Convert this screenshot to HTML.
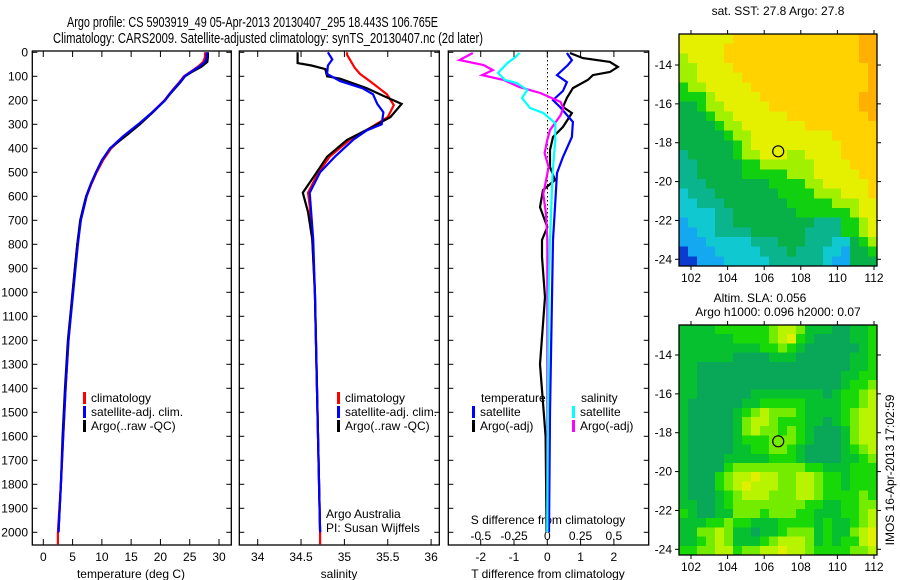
<!DOCTYPE html>
<html><head><meta charset="utf-8"><style>
html,body{margin:0;padding:0;background:#fff}
svg{display:block;font-family:"Liberation Sans",sans-serif}
</style></head><body>
<svg id="fig" width="900" height="580" viewBox="0 0 900 580" xmlns="http://www.w3.org/2000/svg">
<text x="67" y="27" font-size="15" textLength="371" lengthAdjust="spacingAndGlyphs">Argo profile: CS 5903919_49 05-Apr-2013 20130407_295 18.443S 106.765E</text>
<text x="53" y="43" font-size="15" textLength="430" lengthAdjust="spacingAndGlyphs">Climatology: CARS2009. Satellite-adjusted climatology: synTS_20130407.nc (2d later)</text>
<g id="g"></g>
</svg>
<script>
// ---------- data ----------
const depthT = [0,20,40,60,80,100,125,150,175,200,250,300,350,400,450,500,550,600,650,700,800,900,1000,1200,1400,1600,1800,2000];
const tempArgo = [28.1,28.1,28.0,27.0,25.5,24.2,23.4,22.5,21.6,20.8,18.7,16.5,14.0,11.4,10.0,9.0,8.1,7.3,6.8,6.3,5.8,5.4,5.0,4.2,3.7,3.3,3.0,2.6];
const tempClim = [27.6,27.6,27.3,26.4,25.2,24.0,23.2,22.3,21.5,20.7,18.6,16.3,13.8,11.6,10.2,9.1,8.2,7.4,6.9,6.4,5.8,5.4,5.0,4.3,3.8,3.4,3.0,2.5];
const tempSat = [27.9,27.9,27.6,26.6,25.3,24.1,23.3,22.4,21.5,20.8,18.6,16.2,13.6,11.4,10.0,9.0,8.1,7.4,6.9,6.4,5.9,5.5,5.1,4.3,3.8,3.4,3.0,2.6];

const salDepthA = [0,45,55,70,100,110,150,175,215,270,310,365,435,500,585,665,780,1000,1500,2000];
const salArgo = [34.46,34.46,34.62,34.78,34.80,34.95,35.26,35.41,35.66,35.53,35.33,35.03,34.80,34.68,34.52,34.58,34.63,34.66,34.69,34.72];
const salDepthC = [0,10,65,90,130,175,220,270,310,365,435,500,585,640,780,1000,1500,2000,2050];
const salClim = [35.03,35.03,35.12,35.18,35.33,35.49,35.57,35.50,35.32,35.06,34.83,34.70,34.58,34.60,34.63,34.66,34.69,34.72,34.72];
const salDepthS = [0,30,55,90,120,150,175,215,250,300,325,365,435,500,585,780,1000,1500,2000];
const salSat = [34.81,34.86,34.81,34.80,34.95,35.21,35.33,35.38,35.45,35.43,35.26,35.10,34.89,34.72,34.60,34.64,34.66,34.69,34.72];

const dTDepthA = [3,24,40,61,82,95,115,149,190,228,253,311,353,407,478,532,574,645,728,782,853,1020,1300,1600,2000];
const dTArgo = [0.68,1.07,1.88,2.12,1.88,1.37,1.22,0.77,0.59,0.47,0.74,0.47,0.17,0.08,0.08,0.23,-0.13,-0.22,0,-0.16,-0.16,-0.07,-0.22,-0.05,-0.02];
const dTDepthS = [3,33,53,95,124,161,199,228,290,353,436,503,645,782,1020,1500,2000];
const dTSat = [0.59,0.74,0.62,0.29,0.59,0.47,0.17,0.38,0.77,0.74,0.47,0.29,0.23,0.17,0.14,0.08,0.05];
const dSDepthA = [3,32,53,74,95,115,145,170,207,232,262,324,365,420,478,564,590,674,782,1000,1500,2000];
const dSArgo = [-0.56,-0.66,-0.48,-0.41,-0.49,-0.33,-0.21,-0.05,0.10,0.12,0.10,0.02,0,-0.02,0.01,-0.02,-0.03,-0.01,0,0,0,0];
const dSDepthS = [3,20,45,86,115,128,157,190,232,253,295,365,503,782,1020,2000];
const dSSat = [-0.21,-0.24,-0.30,-0.37,-0.32,-0.23,-0.15,-0.19,-0.13,-0.03,0.06,0.06,0.04,0.02,0.01,0];

const depthTicks = [0,100,200,300,400,500,600,700,800,900,1000,1100,1200,1300,1400,1500,1600,1700,1800,1900,2000];
const tempTicks = [0,5,10,15,20,25,30];
const salTicks = [34,34.5,35,35.5,36];
const dTTicks = [-2,-1,0,1,2];
const dSTicks = [-0.5,-0.25,0,0.25,0.5];
const dSTickLabels = ["-0.5","-0.25","0","0.25","0.5"];
const lonTicks = [102,104,106,108,110,112];
const latTicks = [-14,-16,-18,-20,-22,-24];
const argoLon = 106.765, argoLat = -18.443;

const sstGrid = [
"7777778888888888888899","7777788888888888888899","6777788888888888888899","6677778888888888888889",
"6677777888888888888889","5667777788888888888889","5556777778888888888899","4456677777888888888899",
"4445667777778888888889","4444566777777788888888","4444456677777777788888","4444445677777777778888",
"3444445667776677778888","3344444556666667777888","3344444555556667777788","3334444444555566777778",
"2333444444455556667778","2233344444445555566677","2222334444444555555677","1222334444444443335567",
"1122333344444433335567","1112222233344433322456","0111222223334333221445","0011122222333333211444"];
const sstColors = ["#0a3cd0","#14a8f0","#10c8d0","#0ab48c","#08b048","#10d010","#a0f000","#e4f000","#ffd200","#ffb000"];
const slaGrid = [
"1111222222344311100112","1111112222345210000112","1111111112232100000012","1111110000111000000112",
"1100000000000000000112","1100000000000000001122","1100000000000000001223","1100000011111111012234",
"1000000112222211112234","1000001234333211112344","1000001344322211012344","1000001343323210001344",
"1000001222333210001344","1000001122332100001234","1000011111222100001123","1000023333333322111222",
"1000234454433443221222","1000234544433443221222","1000123444333443222232","1100123333333322112233",
"2100113332333221112234","1112232211122221211234","1133431101123331211345","1123431112344431212245",
"2233442334454432222334"];
const slaColors = ["#08a858","#06c030","#18d808","#74ec00","#b8f400","#e0f000"];

// ---------- helpers ----------
const NS="http://www.w3.org/2000/svg";
const G=document.getElementById('g');
function mk(tag,attrs,parent){const e=document.createElementNS(NS,tag);for(const k in attrs)e.setAttribute(k,attrs[k]);(parent||G).appendChild(e);return e;}
function txt(x,y,s,size,anchor,parent){const e=mk('text',{x:x,y:y,'font-size':size||12,'text-anchor':anchor||'start'},parent);e.textContent=s;return e;}

const yD = d => 52.3 + 0.24*d;
const PTOP=51, PBOT=545;
const xT = t => 43.3 + 5.857*t;
const xS = s => 257.7 + (s-34)*86.7;
const xdT = v => 547.3 + v*33.3;
const xdS = v => 547.3 + v*133;

function line(depths, vals, xf, color, name){
  let pts = depths.map((d,i)=> xf(vals[i]).toFixed(1)+','+yD(d).toFixed(1)).join(' ');
  const p = mk('polyline',{points:pts,fill:'none',stroke:color,'stroke-width':2.2,'stroke-linejoin':'miter'});
  
  
}
function frame(x0,x1,name){
  const r=mk('rect',{x:x0,y:PTOP,width:x1-x0,height:PBOT-PTOP,fill:'none',stroke:'#000','stroke-width':1.3});
  
  
  depthTicks.forEach(d=>{
    mk('line',{x1:x0,x2:x0+5,y1:yD(d),y2:yD(d),stroke:'#000'});
    mk('line',{x1:x1,x2:x1-5,y1:yD(d),y2:yD(d),stroke:'#000'});
  });
}
function xticks(ticks,labels,xf,ly,name){
  ticks.forEach((t,i)=>{
    const x=xf(t);
    mk('line',{x1:x,x2:x,y1:PBOT,y2:PBOT-6,stroke:'#000'});
    mk('line',{x1:x,x2:x,y1:PTOP,y2:PTOP+6,stroke:'#000'});
    const e=txt(x,ly,labels[i],12,'middle');
    
    
  });
}
function legendEntry(x,y,color,label,name){
  mk('rect',{x:x,y:y-10,width:3,height:12,fill:color});
  const e=txt(x+8,y,label,12);
  
  
}

// ---------- panel 1 ----------
frame(32.3,231.3,'temperature-panel');
depthTicks.forEach(d=>{const e=txt(28,yD(d)+4,String(d),12,'end');
  
  });
xticks(tempTicks,tempTicks.map(String),xT,561,'temperature-tick-label');
txt(131,578,'temperature (deg C)',12,'middle');
line(depthT.concat([2050]),tempClim.concat([2.5]),xT,'#ff0000','temperature-climatology-line');
line(depthT,tempArgo,xT,'#000000','temperature-argo-line');
line(depthT,tempSat,xT,'#0000ff','temperature-satellite-line');
legendEntry(83,402,'#ff0000','climatology','legend-climatology');
legendEntry(83,416,'#0000ff','satellite-adj. clim.','legend-satellite-adj');
legendEntry(83,430,'#000000','Argo(..raw -QC)','legend-argo');

// ---------- panel 2 ----------
frame(239.3,439.3,'salinity-panel');
xticks(salTicks,["34","34.5","35","35.5","36"],xS,561,'salinity-tick-label');
txt(339,578,'salinity',12,'middle');
line(salDepthC,salClim,xS,'#ff0000','salinity-climatology-line');
line(salDepthA,salArgo,xS,'#000000','salinity-argo-line');
line(salDepthS,salSat,xS,'#0000ff','salinity-satellite-line');
legendEntry(337,402,'#ff0000','climatology','legend-climatology-2');
legendEntry(337,416,'#0000ff','satellite-adj. clim.','legend-satellite-adj-2');
legendEntry(337,430,'#000000','Argo(..raw -QC)','legend-argo-2');
txt(326,518,'Argo Australia',12);
txt(326,532,'PI: Susan Wijffels',12);

// ---------- panel 3 ----------
frame(448.3,648.7,'difference-panel');
for(let y=52;y<250;y+=4) mk('rect',{x:547,y:y,width:1,height:1.5,fill:'#000'});
xticks(dTTicks,dTTicks.map(String),xdT,561,'t-difference-tick-label');
dSTicks.forEach((t,i)=>{const e=txt(xdS(t),540,dSTickLabels[i],12,'middle');
  
  });
txt(548,578,'T difference from climatology',12,'middle');
txt(548,524,'S difference from climatology',12,'middle');
line(dTDepthA,dTArgo,xdT,'#000000','t-diff-argo-line');
line(dTDepthS,dTSat,xdT,'#0000ff','t-diff-satellite-line');
line(dSDepthA,dSArgo,xdS,'#ff00ff','s-diff-argo-line');
line(dSDepthS,dSSat,xdS,'#00ffff','s-diff-satellite-line');
txt(481,402,'temperature',12);
txt(581,402,'salinity',12);
legendEntry(472,416,'#0000ff','satellite','legend-t-satellite');
legendEntry(472,430,'#000000','Argo(-adj)','legend-t-argo');
legendEntry(572,416,'#00ffff','satellite','legend-s-satellite');
legendEntry(572,430,'#ff00ff','Argo(-adj)','legend-s-argo');

// ---------- maps ----------
function map(grid,colors,top,bot,name){
  const L=679,R=877;
  const g=mk('g',{'shape-rendering':'crispEdges'});
  
  
  const rows=grid.length, cols=grid[0].length;
  const cw=(R-L)/cols, ch=(bot-top)/rows;
  grid.forEach((row,r)=>{[...row].forEach((c,k)=>{
    mk('rect',{x:(L+k*cw).toFixed(2),y:(top+r*ch).toFixed(2),width:(cw+0.6).toFixed(2),height:(ch+0.6).toFixed(2),fill:colors[+c]},g);
  });});
  mk('rect',{x:L,y:top,width:R-L,height:bot-top,fill:'none',stroke:'#000','stroke-width':1.3});
  const lonX = lo => 691 + (lo-102)*18.3;
  const lat14 = top + (top<100?31:30);
  const latY = la => lat14 + (-14-la)*19.43;
  lonTicks.forEach(lo=>{const x=lonX(lo);
    mk('line',{x1:x,x2:x,y1:bot,y2:bot+4,stroke:'#000'});
    mk('line',{x1:x,x2:x,y1:top,y2:top-4,stroke:'#000'});
    const e=txt(x,bot+16,String(lo),12,'middle');
    
    });
  latTicks.forEach(la=>{const y=latY(la);
    mk('line',{x1:L,x2:L-4,y1:y,y2:y,stroke:'#000'});
    mk('line',{x1:R,x2:R+4,y1:y,y2:y,stroke:'#000'});
    const e=txt(672,y+4,String(la),12,'end');
    
    });
  const c=mk('circle',{cx:lonX(argoLon),cy:latY(argoLat),r:5.5,fill:'none',stroke:'#000','stroke-width':1.2});
  
  
}
map(sstGrid,sstColors,34,266,'sst-map');
map(slaGrid,slaColors,325,555,'sla-map');
txt(778,15,'sat. SST: 27.8 Argo: 27.8',12,'middle');
txt(760,302,'Altim. SLA: 0.056',12,'middle');
txt(778,316,'Argo h1000: 0.096 h2000: 0.07',12,'middle');
const v=txt(0,0,'IMOS 16-Apr-2013 17:02:59',12,'middle');
v.setAttribute('transform','translate(894,470) rotate(-90)');


</script>
</body></html>
